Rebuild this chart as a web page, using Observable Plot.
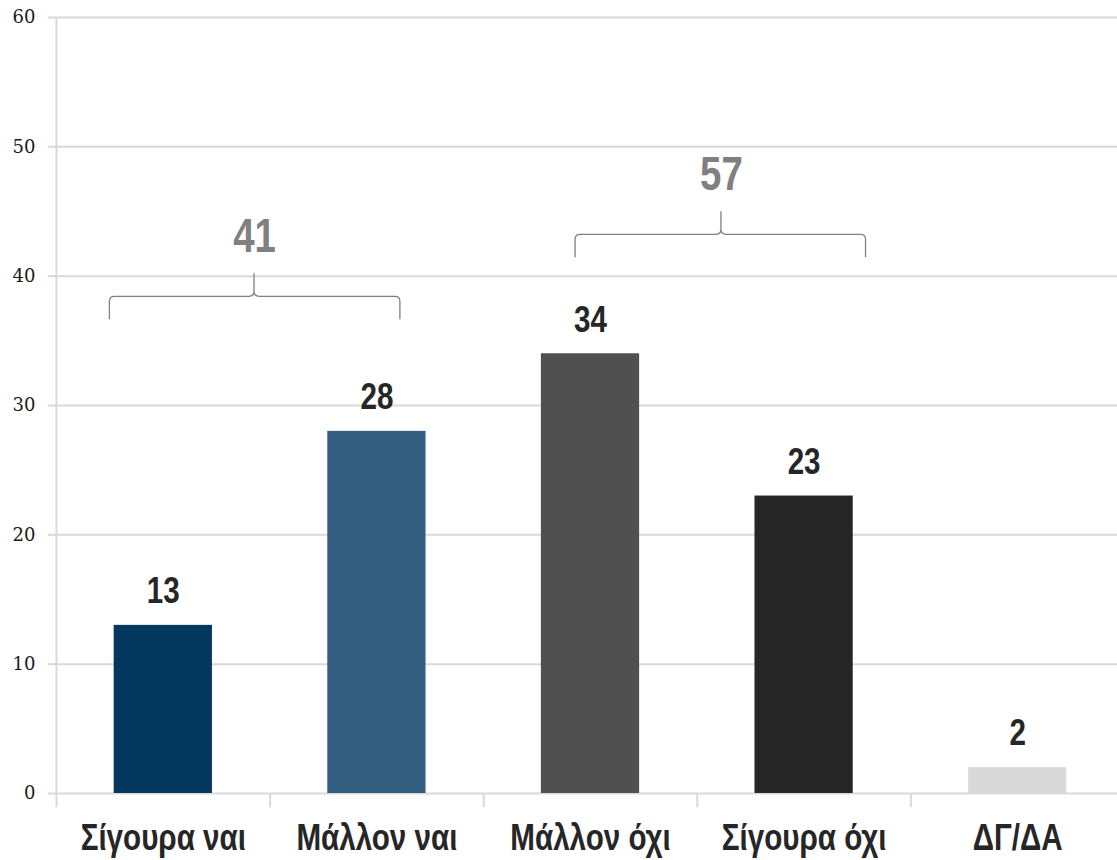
<!DOCTYPE html>
<html><head><meta charset="utf-8">
<script src="https://cdn.jsdelivr.net/npm/d3@7"></script>
<script src="https://cdn.jsdelivr.net/npm/@observablehq/plot@0.6"></script>
<style>html,body{margin:0;padding:0;background:#fff;overflow:hidden}</style>
</head><body><div id="chart"></div>
<script>
const categories = ["Σίγουρα ναι", "Μάλλον ναι", "Μάλλον όχι", "Σίγουρα όχι", "ΔΓ/ΔΑ"];
const values = [13, 28, 34, 23, 2];
const barColors = ["#02375e", "#335e80", "#505050", "#262626", "#d9d9d9"];
const yTicks = [0, 10, 20, 30, 40, 50, 60];
// group brackets (annotations)
const groupTotals = [41, 57];
const groupFrom = [-0.25, 1.93];
const groupTo = [1.11, 3.29];
const groupPeak = [0.427, 2.613];
const groupLevel = [38.4, 43.2];

const bars = categories.map((c, i) => ({i, category: c, value: values[i], color: barColors[i]}));
const groups = groupTotals.map((t, k) => ({total: t, from: groupFrom[k], to: groupTo[k], peak: groupPeak[k], level: groupLevel[k]}));
const half = 0.23;
const sans = "'Liberation Sans', Arial, sans-serif";

function braces(index, scales) {
  const g = document.createElementNS("http://www.w3.org/2000/svg", "g");
  const r = 5, drop = 23;
  for (const b of groups) {
    const x0 = scales.x(b.from), x1 = scales.x(b.to), xp = scales.x(b.peak), y = scales.y(b.level);
    const p = d3.path();
    p.moveTo(x0, y + drop);
    p.lineTo(x0, y + r);
    p.quadraticCurveTo(x0, y, x0 + r, y);
    p.lineTo(xp - r, y);
    p.quadraticCurveTo(xp, y, xp, y - r);
    p.lineTo(xp, y - drop);
    p.lineTo(xp, y - r);
    p.quadraticCurveTo(xp, y, xp + r, y);
    p.lineTo(x1 - r, y);
    p.quadraticCurveTo(x1, y, x1, y + r);
    p.lineTo(x1, y + drop);
    const path = document.createElementNS("http://www.w3.org/2000/svg", "path");
    path.setAttribute("d", p.toString());
    path.setAttribute("fill", "none");
    path.setAttribute("stroke", "#808080");
    path.setAttribute("stroke-width", "1.3");
    g.appendChild(path);
  }
  return g;
}

const chart = Plot.plot({
  width: 1117,
  height: 860,
  marginTop: 17,
  marginBottom: 67,
  marginLeft: 56,
  marginRight: 0,
  style: {background: "#fff", color: "#1a1a1a", overflow: "visible"},
  x: {domain: [-0.5, 4.5], range: [56, 1124], axis: null},
  y: {domain: [0, 60], axis: null},
  marks: [
    Plot.ruleY(yTicks, {stroke: "#d9d9d9", strokeWidth: 2}),
    Plot.axisY({ticks: yTicks, tickSize: 8, tickPadding: 13, stroke: "#d9d9d9", strokeWidth: 2,
      fontSize: 18, fontFamily: "'DejaVu Serif', serif", fill: "#1a1a1a", label: null, tickFormat: d => d}),
    Plot.ruleX([-0.5], {y1: 60, y2: -1.1, stroke: "#d9d9d9", strokeWidth: 2}),
    Plot.ruleX([0.5, 1.5, 2.5, 3.5], {y1: 0, y2: -1.1, stroke: "#d9d9d9", strokeWidth: 2}),
    Plot.rectY(bars, {x1: d => d.i - half, x2: d => d.i + half, y: "value", fill: "color"}),
    Plot.text(bars, {x: "i", y: "value", text: d => String(d.value), dy: -34, fontSize: 37, fontWeight: "bold",
      fontFamily: sans, fill: "#262626"}),
    Plot.text(bars, {x: "i", y: 0, text: "category", dy: 45, fontSize: 37, fontWeight: "bold",
      fontFamily: sans, fill: "#262626"}),
    braces,
    Plot.text(groups, {x: "peak", y: "level", text: d => String(d.total), dy: -60, fontSize: 48, fontWeight: "bold",
      fontFamily: sans, fill: "#808080"})
  ]
});
// condense the bold sans labels horizontally (narrow face look)
chart.querySelectorAll('g[aria-label="text"] text').forEach(t => {
  const tr = t.getAttribute("transform") || "";
  t.setAttribute("transform", tr + " scale(0.8,1)");
});
document.getElementById("chart").appendChild(chart);
</script>
</body></html>
